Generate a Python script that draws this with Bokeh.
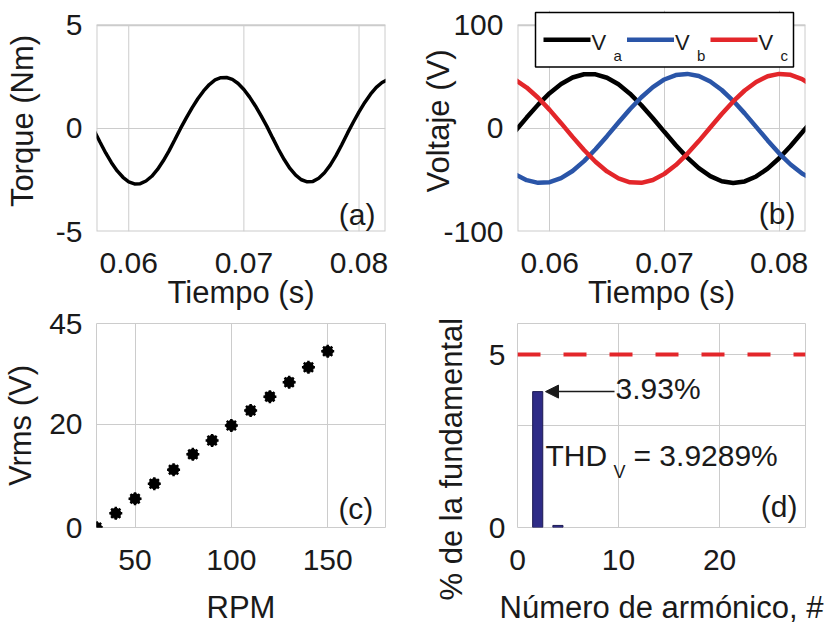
import math
from bokeh.plotting import figure
from bokeh.layouts import column, row
from bokeh.models import (FixedTicker, Label, Arrow, NormalHead, Span, Range1d, Title)
from bokeh.embed import file_html
from bokeh.resources import INLINE

# ---------------- data ----------------
# (a) torque vs time
t_torque = [0.0570, 0.0575, 0.0580, 0.0585, 0.0590, 0.0595, 0.0600, 0.0605, 0.0610, 0.0615,
            0.0620, 0.0625, 0.0630, 0.0635, 0.0640, 0.0645, 0.0650, 0.0655, 0.0660, 0.0665,
            0.0670, 0.0675, 0.0680, 0.0685, 0.0690, 0.0695, 0.0700, 0.0705, 0.0710, 0.0715,
            0.0720, 0.0725, 0.0730, 0.0735, 0.0740, 0.0745, 0.0750, 0.0755, 0.0760, 0.0765,
            0.0770, 0.0775, 0.0780, 0.0785, 0.0790, 0.0795, 0.0800, 0.0805, 0.0810, 0.0815,
            0.0820, 0.0825]
torque = [-0.11, -0.66, -1.19, -1.66, -2.06, -2.37, -2.59, -2.69, -2.68, -2.55,
          -2.32, -1.99, -1.57, -1.09, -0.55, 0.00, 0.51, 1.00, 1.44, 1.82,
          2.13, 2.35, 2.46, 2.47, 2.38, 2.18, 1.89, 1.52, 1.09, 0.61,
          0.10, -0.46, -1.01, -1.51, -1.94, -2.27, -2.49, -2.59, -2.57, -2.42,
          -2.15, -1.78, -1.32, -0.79, -0.23, 0.30, 0.80, 1.26, 1.66, 1.99,
          2.23, 2.37]

# (b) phase voltages vs time
t_volt = [0.057, 0.058, 0.059, 0.060, 0.061, 0.062, 0.063, 0.064, 0.065, 0.066,
          0.067, 0.068, 0.069, 0.070, 0.071, 0.072, 0.073, 0.074, 0.075, 0.076,
          0.077, 0.078, 0.079, 0.080, 0.081, 0.082, 0.083]
va = [-2.7, 10.5, 23.1, 34.2, 43.1, 49.4, 52.6, 52.5, 49.2, 42.8,
      33.7, 22.5, 9.9, -3.3, -16.3, -28.3, -38.5, -46.3, -51.3, -53.0,
      -51.4, -46.6, -39.0, -28.9, -17.0, -4.0, 9.2]
vb = [-44.5, -50.2, -52.8, -52.2, -48.2, -41.3, -31.7, -20.2, -7.5, 5.7,
      18.6, 30.3, 40.1, 47.5, 51.8, 52.9, 50.8, 45.5, 37.3, 26.8,
      14.6, 1.5, -11.6, -24.1, -35.0, -43.8, -49.8]
vc = [47.2, 39.7, 29.8, 18.0, 5.1, -8.2, -20.9, -32.3, -41.7, -48.5,
      -52.3, -52.8, -50.0, -44.1, -35.5, -24.6, -12.3, 0.9, 14.0, 26.2,
      36.8, 45.1, 50.6, 52.9, 52.0, 47.9, 40.6]
phase_names = ["a", "b", "c"]

# (c) Vrms vs RPM
rpm = [30, 40, 50, 60, 70, 80, 90, 100, 110, 120, 130, 140, 150]
vrms = [0.0, 2.75, 5.6, 8.5, 11.2, 14.2, 16.9, 19.8, 22.7, 25.4, 28.2, 31.1, 34.2]

# (d) harmonic spectrum
harmonic = [2, 4]
pct_fund = [3.93, 0.06]
limit_pct = 5
thd_v = 3.9289

# ticks / tick labels
t_ticks = [0.06, 0.07, 0.08]
torque_ticks = [-5, 0, 5]
torque_tick_labels = {-5: "-5"}
volt_ticks = [-100, 0, 100]
volt_tick_labels = {-100: "-100"}
rpm_ticks = [50, 100, 150]
vrms_ticks = [0, 20, 39.6]
vrms_tick_labels = {39.6: "45"}
harm_ticks = [0, 10, 20]
pct_ticks = [0, 5]
pct_grid = [2.95, 5]

# ---------------- style ----------------
FONT = "Liberation Sans"
TXT = "#1a1a1a"
GRID = "#cccccc"
BLUE = "#2a55a8"
RED = "#e3262a"
BAR = "#2e2b86"
TICK_FS = "30px"
LAB_FS = "31px"
PHASE_COLORS = ["black", BLUE, RED]


def make_fig(w, h, xr, yr, bl, br, bt, bb):
    p = figure(width=w, height=h, x_range=Range1d(*xr), y_range=Range1d(*yr),
               output_backend="svg", toolbar_location=None,
               min_border_left=bl, min_border_right=br,
               min_border_top=bt, min_border_bottom=bb)
    p.outline_line_color = GRID
    p.outline_line_width = 1
    p.background_fill_color = "white"
    p.border_fill_color = "white"
    for ax in (p.xaxis[0], p.yaxis[0]):
        ax.axis_line_color = None
        ax.major_tick_line_color = None
        ax.minor_tick_line_color = None
        ax.major_tick_out = 0
        ax.major_tick_in = 0
        ax.minor_tick_out = 0
        ax.major_label_text_font = FONT
        ax.major_label_text_font_size = TICK_FS
        ax.major_label_text_color = TXT
        ax.axis_label_text_font = FONT
        ax.axis_label_text_font_size = LAB_FS
        ax.axis_label_text_font_style = "normal"
        ax.axis_label_text_color = TXT
    p.grid.grid_line_color = GRID
    p.grid.grid_line_width = 1
    return p


def corner_label(p, x, y, text):
    p.add_layout(Label(x=x, y=y, text=text, text_font=FONT, text_font_size="30px",
                       text_color=TXT, text_align="right", text_baseline="middle"))


def frame_box(p, xr, yr):
    # visible plot box (the frame itself reaches a bit higher so the legend can overhang)
    p.outline_line_color = None
    p.quad(left=[xr[0]], right=[xr[1]], bottom=[yr[0]], top=[yr[-1]],
           fill_color=None, line_color=GRID, line_width=2)


W1, W2 = 407, 428          # left / right column widths
H1, H2 = 312, 315          # top / bottom row heights
BL_LEFT, BL_RIGHT = 96, 110
BR_LEFT, BR_RIGHT = W1 - 385, 30
T_RANGE = (0.0572, 0.0823)
TOP_BORDER = 10          # frames of the top row start 10 px from the top
BOX_TOP_PX = 25          # the drawn box top (value 5 / 100) sits at 25 px
TOP_FRAME_BOTTOM = 233
A_TOP = 5 + (BOX_TOP_PX - TOP_BORDER) * 10 / (TOP_FRAME_BOTTOM - BOX_TOP_PX)
B_TOP = 100 + (BOX_TOP_PX - TOP_BORDER) * 200 / (TOP_FRAME_BOTTOM - BOX_TOP_PX)

# ---------------- (a) ----------------
pa = make_fig(W1, H1, T_RANGE, (-5, A_TOP), BL_LEFT, BR_LEFT, TOP_BORDER,
              H1 - TOP_FRAME_BOTTOM)
frame_box(pa, T_RANGE, torque_ticks)
pa.xgrid.grid_line_color = None
pa.segment(x0=t_ticks, y0=[torque_ticks[0]] * len(t_ticks), x1=t_ticks,
           y1=[torque_ticks[-1]] * len(t_ticks), line_color=GRID, line_width=1)
pa.line(t_torque, torque, line_color="black", line_width=3.5)
pa.xaxis.ticker = FixedTicker(ticks=t_ticks)
pa.yaxis.ticker = FixedTicker(ticks=torque_ticks)
pa.yaxis.major_label_overrides = torque_tick_labels
pa.xaxis.axis_label = "Tiempo (s)"
pa.yaxis.axis_label = "Torque (Nm)"
pa.xaxis.major_label_standoff = 21
pa.xaxis.axis_label_standoff = -1
pa.yaxis.major_label_standoff = 14
pa.yaxis.axis_label_standoff = 13
corner_label(pa, 0.08143, -4.18, "(a)")

# ---------------- (b) ----------------
pb = make_fig(W2, H1, T_RANGE, (-100, B_TOP), BL_RIGHT, BR_RIGHT, TOP_BORDER,
              H1 - TOP_FRAME_BOTTOM)
frame_box(pb, T_RANGE, volt_ticks)
for vals, col in zip([va, vb, vc], PHASE_COLORS):
    pb.line(t_volt, vals, line_color=col, line_width=4.5)
pb.xaxis.ticker = FixedTicker(ticks=t_ticks)
pb.yaxis.ticker = FixedTicker(ticks=volt_ticks)
pb.yaxis.major_label_overrides = volt_tick_labels
pb.xaxis.axis_label = "Tiempo (s)"
pb.yaxis.axis_label = "Voltaje (V)"
pb.xaxis.major_label_standoff = 21
pb.xaxis.axis_label_standoff = -1
pb.yaxis.major_label_standoff = 14
pb.yaxis.axis_label_standoff = -16

# legend of panel (b), placed by pixel position inside the (b) frame
B_LEFT_PX, B_RIGHT_PX = 517, 805


def bx(px):
    return T_RANGE[0] + (px - B_LEFT_PX) * (T_RANGE[1] - T_RANGE[0]) / (B_RIGHT_PX - B_LEFT_PX)


def by(py):
    return B_TOP - (py - TOP_BORDER) * (B_TOP + 100) / (TOP_FRAME_BOTTOM - TOP_BORDER)


pb.quad(left=[bx(535)], right=[bx(793)], bottom=[by(67)], top=[by(12)],
        fill_color="white", line_color="black", line_width=1.5)
for i, (name, col) in enumerate(zip(phase_names, PHASE_COLORS)):
    x0 = 543 + i * 83.5
    pb.line([bx(x0), bx(x0 + 47)], [by(39.5), by(39.5)], line_color=col, line_width=4.5)
    pb.add_layout(Label(x=bx(x0 + 48), y=by(42), text="V", text_font=FONT,
                        text_font_size="22px", text_color=TXT, text_align="left",
                        text_baseline="middle"))
    pb.add_layout(Label(x=bx(x0 + 70), y=by(55), text=name, text_font=FONT,
                        text_font_size="15px", text_color=TXT, text_align="left",
                        text_baseline="middle"))
corner_label(pb, 0.08143, -82.7, "(b)")

# ---------------- (c) ----------------
pc = make_fig(W1, H2, (30, 180), (0, 39.6), BL_LEFT, BR_LEFT, 11, H2 - 217)
pc.scatter(rpm, vrms, marker="circle", size=10, color="black")
pc.scatter(rpm, vrms, marker="asterisk", size=13, line_color="black", line_width=2.5)
pc.xaxis.ticker = FixedTicker(ticks=rpm_ticks)
pc.yaxis.ticker = FixedTicker(ticks=vrms_ticks)
pc.yaxis.major_label_overrides = vrms_tick_labels
pc.xaxis.axis_label = "RPM"
pc.yaxis.axis_label = "Vrms (V)"
pc.xaxis.major_label_standoff = 22
pc.xaxis.axis_label_standoff = 17
pc.yaxis.major_label_standoff = 14
pc.yaxis.axis_label_standoff = 8
corner_label(pc, 173.7, 3.65, "(c)")

# ---------------- (d) ----------------
pd_ = make_fig(W2, H2, (0, 28.5), (0, 5.9), BL_RIGHT, BR_RIGHT, 11, H2 - 217)
pd_.vbar(x=harmonic, top=pct_fund, width=1.0, fill_color=BAR, line_color="#1c1a50",
         line_width=1)
pd_.add_layout(Span(location=limit_pct, dimension="width", line_color=RED, line_width=4,
                    line_dash="23 23"))
pd_.xaxis.ticker = FixedTicker(ticks=harm_ticks)
pd_.yaxis.ticker = FixedTicker(ticks=pct_ticks)
pd_.ygrid.ticker = FixedTicker(ticks=pct_grid)
pd_.xaxis.axis_label = "Número de armónico, #"
pd_.xaxis.major_label_standoff = 22
pd_.xaxis.axis_label_standoff = 17
pd_.yaxis.major_label_standoff = 12
pd_.add_layout(Title(text="% de la fundamental", align="left", offset=-73, standoff=34,
                     text_font=FONT, text_font_size="31px", text_font_style="normal",
                     text_color=TXT), "left")
pd_.add_layout(Arrow(end=NormalHead(size=13, fill_color=TXT, line_color=TXT),
                     x_start=9.6, y_start=pct_fund[0], x_end=2.77, y_end=pct_fund[0],
                     line_color=TXT, line_width=1.5))
pd_.add_layout(Label(x=9.7, y=4.01, text=f"{pct_fund[0]:.2f}%", text_font=FONT,
                     text_font_size="30px", text_color=TXT, text_align="left",
                     text_baseline="middle"))
pd_.add_layout(Label(x=2.77, y=2.09, text="THD", text_font=FONT, text_font_size="30px",
                     text_color=TXT, text_align="left", text_baseline="middle"))
pd_.add_layout(Label(x=9.5, y=1.6, text="V", text_font=FONT, text_font_size="18px",
                     text_color=TXT, text_align="left", text_baseline="middle"))
pd_.add_layout(Label(x=11.48, y=2.09, text=f"= {thd_v:.4f}%", text_font=FONT,
                     text_font_size="30px", text_color=TXT, text_align="left",
                     text_baseline="middle"))
corner_label(pd_, 27.7, 0.6, "(d)")

layout = column(row(pa, pb), row(pc, pd_))
open("out.html", "w").write(file_html(layout, INLINE))
